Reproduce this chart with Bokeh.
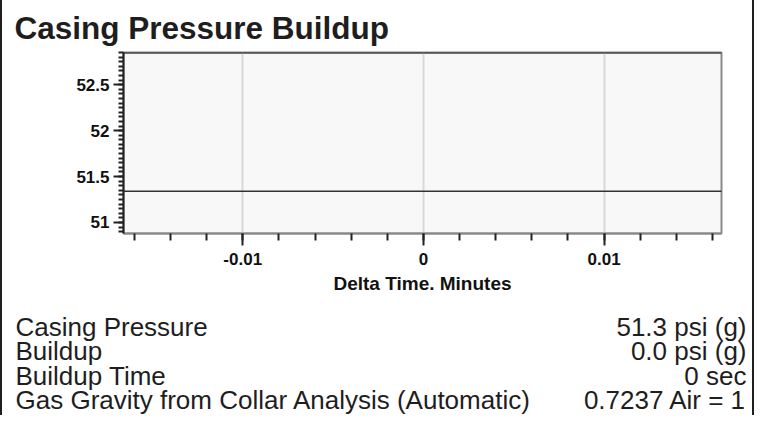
from bokeh.plotting import figure
from bokeh.layouts import column
from bokeh.models import FixedTicker, Span, Range1d, ColumnDataSource
from bokeh.core.properties import value
from bokeh.embed import file_html
from bokeh.resources import INLINE

# ---- data ----
title_text = "Casing Pressure Buildup"
delta_time_min = [-0.02, 0.02]
casing_pressure = [51.34, 51.34]
x_ticks = [-0.01, 0.0, 0.01]
x_tick_labels = ["-0.01", "0", "0.01"]
x_minor = [round(-0.016 + 0.002 * i, 4) for i in range(17)]
y_ticks = [51.0, 51.5, 52.0, 52.5]
y_tick_labels = ["51", "51.5", "52", "52.5"]
y_minor = [round(50.9 + 0.05 * i, 3) for i in range(40)]
x_label = "Delta Time. Minutes"
row_names = ["Casing Pressure", "Buildup", "Buildup Time",
             "Gas Gravity from Collar Analysis (Automatic)"]
row_values = ["51.3 psi (g)", "0.0 psi (g)", "0 sec", "0.7237 Air = 1"]

W = 754
SANS = "'Liberation Sans', Arial, sans-serif"
BORDER = {"border-left": "2px solid #1e1e1e", "border-right": "2px solid #1e1e1e"}

# ---------- chart ----------
p = figure(width=W, height=300, output_backend="svg", toolbar_location=None,
           x_range=Range1d(-0.0166, 0.0165), y_range=Range1d(50.88, 52.85),
           min_border_left=121, min_border_right=35, min_border_top=52,
           min_border_bottom=67)
p.styles = BORDER
p.background_fill_color = "#f8f8f8"
p.border_fill_color = "white"
p.outline_line_color = "#8a8a8a"
p.outline_line_width = 2

p.title.text = title_text
p.title.text_font = SANS
p.title.text_font_style = "bold"
p.title.text_font_size = "31.5px"
p.title.text_color = "#1e1e1e"
p.title.align = "left"
p.title.offset = -109
p.title.standoff = 13

p.xaxis.ticker = FixedTicker(ticks=x_ticks, minor_ticks=x_minor)
p.yaxis.ticker = FixedTicker(ticks=y_ticks, minor_ticks=y_minor)
p.xaxis.major_label_overrides = dict(zip(x_ticks, x_tick_labels))
p.yaxis.major_label_overrides = dict(zip(y_ticks, y_tick_labels))
for ax in (p.xaxis[0], p.yaxis[0]):
    ax.major_label_text_font = SANS
    ax.major_label_text_font_style = "bold"
    ax.major_label_text_font_size = "17px"
    ax.major_label_text_color = "#111111"
    ax.major_tick_line_color = "#222222"
    ax.minor_tick_line_color = "#222222"
    ax.major_tick_line_width = 2
    ax.minor_tick_line_width = 2
    ax.major_tick_in = 0
    ax.minor_tick_in = 0
p.yaxis.axis_line_color = "#222222"
p.yaxis.axis_line_width = 2
p.yaxis.major_tick_out = 10
p.yaxis.minor_tick_out = 5
p.yaxis.major_label_standoff = 4
p.xaxis.axis_line_color = "#8a8a8a"
p.xaxis.axis_line_width = 2
p.xaxis.major_tick_out = 12
p.xaxis.minor_tick_out = 7
p.xaxis.major_label_standoff = 7
p.xaxis.axis_label = x_label
p.xaxis.axis_label_text_font = SANS
p.xaxis.axis_label_text_font_style = "bold"
p.xaxis.axis_label_text_font_size = "19px"
p.xaxis.axis_label_text_color = "#111111"
p.xaxis.axis_label_standoff = 5

p.xgrid.grid_line_color = "#d9d9d9"
p.xgrid.grid_line_width = 2
p.ygrid.grid_line_color = None

p.add_layout(Span(location=52.85, dimension="width", line_color="#222222", line_width=2))
p.line(delta_time_min, casing_pressure, line_color="#333333", line_width=1.5)

# ---------- info rows ----------
n = len(row_names)
H2 = 115
first_px, step_px = 26, 24.5
t = figure(width=W, height=H2, output_backend="svg", toolbar_location=None,
           x_range=Range1d(0, 1),
           y_range=Range1d((H2 - first_px) / step_px, -first_px / step_px),
           min_border_left=13, min_border_right=10, min_border_top=0,
           min_border_bottom=0)
t.styles = BORDER
t.axis.visible = False
t.grid.grid_line_color = None
t.outline_line_color = None
t.background_fill_color = "white"
t.border_fill_color = "white"

for fig in (p, t):
    try:
        fig.frame_align = False
    except Exception:
        pass

rows = list(range(n))
src_l = ColumnDataSource(dict(x=[0] * n, y=rows, text=row_names))
src_r = ColumnDataSource(dict(x=[1] * n, y=rows, text=row_values))
t.text("x", "y", "text", source=src_l, text_font=value(SANS), text_font_size="26px",
       text_color="#1e1e1e", text_align="left", text_baseline="middle")
t.text("x", "y", "text", source=src_r, text_font=value(SANS), text_font_size="26px",
       text_color="#1e1e1e", text_align="right", text_baseline="middle")

layout = column(p, t, spacing=0)
open("out.html", "w").write(file_html(layout, INLINE))
